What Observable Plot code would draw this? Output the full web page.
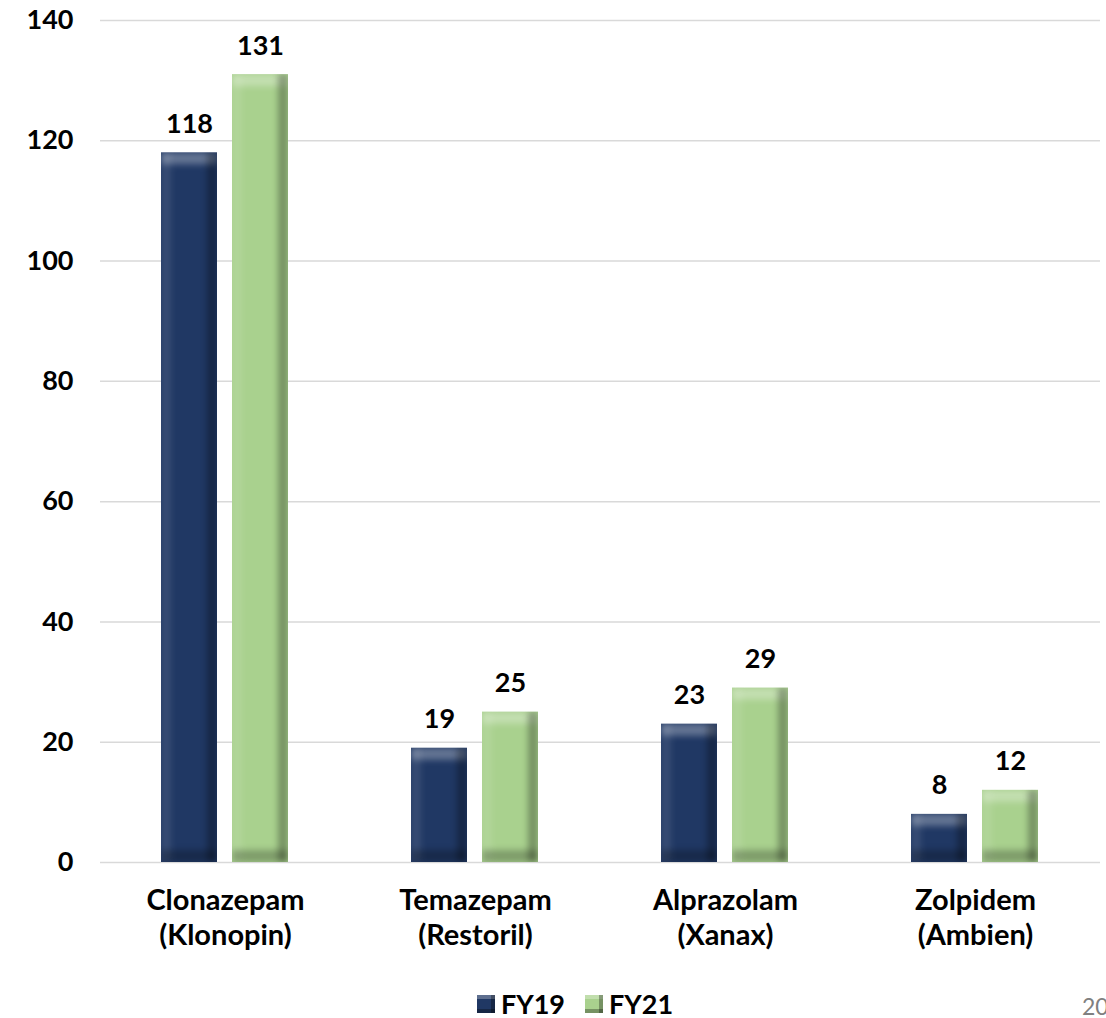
<!DOCTYPE html>
<html><head><meta charset="utf-8">
<script src="https://cdn.jsdelivr.net/npm/d3@7"></script>
<script src="https://cdn.jsdelivr.net/npm/@observablehq/plot@0.6"></script>
<style>
body{margin:0;background:#fff;font-family:Lato,"Open Sans",sans-serif;}
#wrap{position:relative;width:1106px;height:1018px;overflow:hidden;background:#fff;}
#legend{position:absolute;left:0;top:991px;width:1106px;padding-left:44px;box-sizing:border-box;text-align:center;font-weight:bold;font-size:27px;line-height:24px;color:#000;}
#legend .item{display:inline-flex;align-items:center;margin:0 10px;height:24px;}
#legend svg{margin-right:6px;}
#page{position:absolute;left:1082px;top:995px;font-size:23px;line-height:22px;color:#808080;font-family:Lato,sans-serif;white-space:nowrap;}
</style></head><body>
<svg width="0" height="0" style="position:absolute">
<defs>
<filter id="bevel" x="0" y="0" width="1" height="1" color-interpolation-filters="sRGB">
 <feOffset in="SourceAlpha" dy="12" result="oT"/>
 <feComposite in="SourceAlpha" in2="oT" operator="out" result="bT"/>
 <feFlood flood-color="#ffffff" flood-opacity="0.3" result="fT"/>
 <feComposite in="fT" in2="bT" operator="in" result="T"/>
 <feOffset in="SourceAlpha" dx="10" result="oL"/>
 <feComposite in="SourceAlpha" in2="oL" operator="out" result="bL"/>
 <feFlood flood-color="#ffffff" flood-opacity="0.1" result="fL"/>
 <feComposite in="fL" in2="bL" operator="in" result="L"/>
 <feOffset in="SourceAlpha" dx="-10" result="oR"/>
 <feComposite in="SourceAlpha" in2="oR" operator="out" result="bR"/>
 <feFlood flood-color="#000000" flood-opacity="0.3" result="fR"/>
 <feComposite in="fR" in2="bR" operator="in" result="R"/>
 <feOffset in="SourceAlpha" dy="-12" result="oB"/>
 <feComposite in="SourceAlpha" in2="oB" operator="out" result="bB"/>
 <feFlood flood-color="#000000" flood-opacity="0.25" result="fB"/>
 <feComposite in="fB" in2="bB" operator="in" result="B"/>
 <feMerge result="bev"><feMergeNode in="T"/><feMergeNode in="L"/><feMergeNode in="R"/><feMergeNode in="B"/></feMerge>
 <feGaussianBlur in="bev" stdDeviation="3" result="bevBlur"/>
 <feComposite in="bevBlur" in2="SourceAlpha" operator="in" result="bevClip"/>
 <feMerge><feMergeNode in="SourceGraphic"/><feMergeNode in="bevClip"/></feMerge>
</filter>
<filter id="bevelSmall" x="0" y="0" width="1" height="1" color-interpolation-filters="sRGB">
 <feOffset in="SourceAlpha" dy="4" result="oT"/>
 <feComposite in="SourceAlpha" in2="oT" operator="out" result="bT"/>
 <feFlood flood-color="#ffffff" flood-opacity="0.28" result="fT"/>
 <feComposite in="fT" in2="bT" operator="in" result="T"/>
 <feOffset in="SourceAlpha" dx="-4" result="oR"/>
 <feComposite in="SourceAlpha" in2="oR" operator="out" result="bR"/>
 <feFlood flood-color="#000000" flood-opacity="0.3" result="fR"/>
 <feComposite in="fR" in2="bR" operator="in" result="R"/>
 <feOffset in="SourceAlpha" dy="-4" result="oB"/>
 <feComposite in="SourceAlpha" in2="oB" operator="out" result="bB"/>
 <feFlood flood-color="#000000" flood-opacity="0.3" result="fB"/>
 <feComposite in="fB" in2="bB" operator="in" result="B"/>
 <feMerge><feMergeNode in="SourceGraphic"/><feMergeNode in="T"/><feMergeNode in="R"/><feMergeNode in="B"/></feMerge>
</filter>
</defs></svg>
<div id="wrap"><div id="chart"></div><div id="legend"></div><div id="page">20</div></div>
<script>
const drugs = ["Clonazepam", "Temazepam", "Alprazolam", "Zolpidem"];
const brands = ["(Klonopin)", "(Restoril)", "(Xanax)", "(Ambien)"];
const years = ["FY19", "FY21"];
const fy19 = [118, 19, 23, 8];
const fy21 = [131, 25, 29, 12];
const yTicks = [0, 20, 40, 60, 80, 100, 120, 140];
const colors = ["#203864", "#a9d18e"];

const data = drugs.flatMap((d, i) => [
  {drug: d, year: years[0], value: fy19[i]},
  {drug: d, year: years[1], value: fy21[i]}
]);
const catLabels = drugs.map((d, i) => ({drug: d, label: d + "\n" + brands[i]}));

const chart = Plot.plot({
  width: 1106, height: 988,
  marginLeft: 100, marginRight: 6, marginTop: 20, marginBottom: 126,
  style: {fontFamily: "Lato, sans-serif", fontWeight: "bold", fontSize: "27px", color: "#000", background: "white", overflow: "visible"},
  fx: {domain: drugs, padding: 0, axis: null, label: null},
  x: {domain: years, paddingInner: 0.211, paddingOuter: 0.866, axis: null, label: null},
  y: {domain: [0, 140], ticks: 7, axis: "left", tickSize: 0, tickPadding: 27, label: null},
  color: {domain: years, range: colors},
  marks: [
    Plot.ruleY(yTicks, {stroke: "#d9d9d9", strokeWidth: 1.5}),
    Plot.barY(data, {fx: "drug", x: "year", y: "value", fill: "year"}),
    Plot.text(data, {fx: "drug", x: "year", y: "value", text: d => String(d.value), lineAnchor: "bottom", dy: -20, fill: "black"}),
    Plot.text(catLabels, {fx: "drug", text: "label", frameAnchor: "bottom", lineAnchor: "top", dy: 23, lineHeight: 1.2, fontSize: 29, fill: "black"})
  ]
});
document.getElementById("chart").appendChild(chart);
d3.select(chart).selectAll('g[aria-label="bar"] rect').attr("filter", "url(#bevel)");

const legend = d3.select("#legend");
years.forEach((y, i) => {
  const it = legend.append("span").attr("class", "item");
  const s = it.append("svg").attr("width", 18).attr("height", 18);
  s.append("rect").attr("width", 18).attr("height", 18).attr("fill", colors[i]).attr("filter", "url(#bevelSmall)");
  it.append("span").text(y);
});
</script>
</body></html>
